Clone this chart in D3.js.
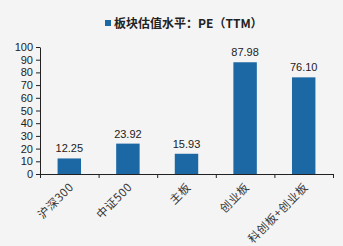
<!DOCTYPE html>
<html>
<head>
<meta charset="utf-8">
<script src="https://cdn.jsdelivr.net/npm/d3@7"></script>
<style>
  body { margin: 0; background: #f4f4f4; }
  svg { display: block; }
  .axis path, .axis line { stroke: #222; }
  .axis text { fill: #222; font-family: "Liberation Sans", Arial, sans-serif; font-size: 11px; }
</style>
</head>
<body>
<script>
var categories = ["沪深300", "中证500", "主板", "创业板", "科创板+创业板"];
var peValues   = [12.25, 23.92, 15.93, 87.98, 76.10];
var yTicks     = [0, 10, 20, 30, 40, 50, 60, 70, 80, 90, 100];
var seriesName = "板块估值水平：PE（TTM）";

var W = 343, H = 246,
    m = { left: 40, right: 10, top: 47, bot: 72 },
    barColour = "#1b68a5";

var svg = d3.select("body").append("svg")
  .attr("width", W).attr("height", H);

svg.append("rect").attr("width", W).attr("height", H).attr("fill", "#f4f4f4");

var x = d3.scaleBand().domain(categories).range([m.left, W - m.right]).paddingInner(0.6).paddingOuter(0.3);
var xb = d3.scaleLinear().domain([0, categories.length]).range([m.left, W - m.right]);
var y = d3.scaleLinear().domain([0, 100]).range([H - m.bot, m.top]);

// legend / title
var lg = svg.append("g").attr("transform", "translate(105,24)");
lg.append("rect").attr("x", 0).attr("y", -4).attr("width", 6).attr("height", 6).attr("fill", barColour);
lg.append("text").attr("x", 9).attr("y", 4)
  .attr("font-family", "'Noto Sans CJK SC', sans-serif").attr("font-weight", "bold")
  .attr("font-size", 12).attr("fill", "#222").text(seriesName);

// y axis
svg.append("g").attr("class", "axis")
  .attr("transform", "translate(" + m.left + ",0)")
  .call(d3.axisLeft(y).tickValues(yTicks).tickSize(4).tickSizeOuter(0).tickPadding(3));

// x axis: ticks at band boundaries
var xg = svg.append("g").attr("class", "axis")
  .attr("transform", "translate(0," + (H - m.bot) + ")")
  .call(d3.axisBottom(xb).tickValues(d3.range(categories.length + 1)).tickSize(4).tickSizeOuter(0).tickFormat(""));

// bars
svg.selectAll("rect.bar").data(peValues).enter().append("rect")
  .attr("class", "bar")
  .attr("x", function(d, i){ return x(categories[i]); })
  .attr("width", x.bandwidth())
  .attr("y", function(d){ return y(d); })
  .attr("height", function(d){ return y(0) - y(d); })
  .attr("fill", barColour);

// value labels
svg.selectAll("text.val").data(peValues).enter().append("text")
  .attr("class", "val")
  .attr("x", function(d, i){ return x(categories[i]) + x.bandwidth() / 2; })
  .attr("y", function(d){ return y(d) - 6; })
  .attr("text-anchor", "middle")
  .attr("font-family", "'Liberation Sans', Arial, sans-serif")
  .attr("font-size", 11).attr("fill", "#222")
  .text(function(d){ return d.toFixed(2); });

// rotated category labels
svg.selectAll("text.cat").data(categories).enter().append("text")
  .attr("class", "cat")
  .attr("transform", function(d){
    return "translate(" + (x(d) + x.bandwidth() / 2 + 5) + "," + (H - m.bot + 14) + ") rotate(-45)";
  })
  .attr("text-anchor", "end")
  .attr("font-family", "'Noto Sans CJK SC', 'Liberation Sans', sans-serif")
  .attr("font-size", 11.5).attr("letter-spacing", 0.5).attr("fill", "#333")
  .text(function(d){ return d; });
</script>
</body>
</html>
